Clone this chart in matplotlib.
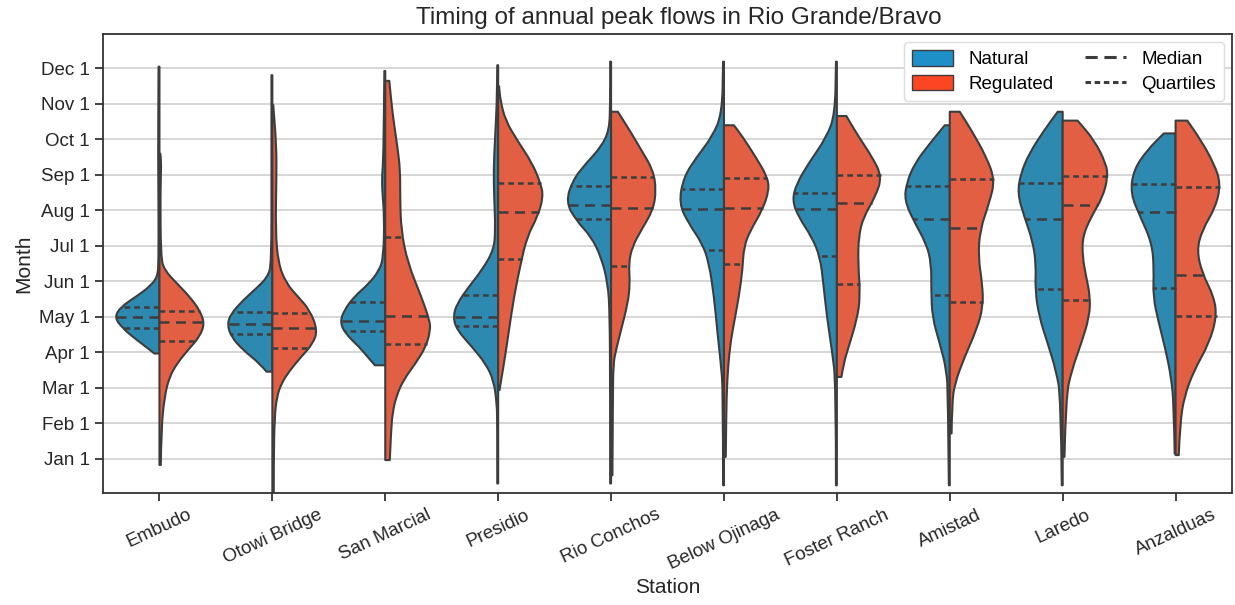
import matplotlib.pyplot as plt
import numpy as np
from matplotlib.path import Path
from matplotlib.patches import PathPatch, Patch
from matplotlib.lines import Line2D

plt.rcParams['font.family'] = ['Liberation Sans', 'DejaVu Sans']

stations = ['Embudo', 'Otowi Bridge', 'San Marcial', 'Presidio', 'Rio Conchos',
            'Below Ojinaga', 'Foster Ranch', 'Amistad', 'Laredo', 'Anzalduas']
month_labels = ['Jan 1', 'Feb 1', 'Mar 1', 'Apr 1', 'May 1', 'Jun 1',
                'Jul 1', 'Aug 1', 'Sep 1', 'Oct 1', 'Nov 1', 'Dec 1']

# density profiles: month position (Jan 1 = 1) and relative width (max = 1)
natural_y = [
    [3.97, 4.16, 4.44, 4.68, 4.99, 5.29, 5.57, 5.85, 6.13, 6.6, 8.0, 9.5, 12.05],
    [3.46, 3.69, 4.07, 4.44, 4.80, 5.10, 5.47, 5.80, 6.13, 6.51, 9.0, 11.81],
    [3.64, 3.83, 4.16, 4.54, 4.86, 5.19, 5.57, 5.94, 6.32, 6.69, 7.82, 8.6, 9.0, 9.5, 11.93],
    [0.31, 2.0, 2.56, 3.22, 3.69, 4.16, 4.63, 5.0, 5.38, 5.85, 6.32, 6.88, 7.45, 8.4, 9.2, 10.0, 11.0, 12.09],
    [0.31, 3.0, 5.10, 5.94, 6.69, 7.26, 7.73, 8.24, 8.85, 9.32, 9.79, 10.26, 11.0, 12.19],
    [0.26, 2.94, 3.69, 4.63, 5.57, 6.51, 7.07, 7.63, 8.20, 8.95, 9.51, 10.08, 10.73, 12.19],
    [0.26, 3.13, 4.07, 5.0, 5.94, 6.69, 7.26, 7.82, 8.29, 8.76, 9.32, 10.08, 10.73, 12.19],
    [0.26, 2.75, 3.50, 4.25, 5.0, 5.76, 6.51, 7.07, 7.73, 8.29, 8.76, 9.32, 9.89, 10.40],
    [0.26, 2.75, 3.50, 4.25, 5.0, 5.76, 6.51, 7.16, 7.82, 8.48, 9.04, 9.61, 10.26, 10.78],
    [1.15, 2.56, 3.31, 4.07, 4.82, 5.57, 6.32, 7.07, 7.82, 8.48, 9.14, 9.70, 10.17],
]
natural_w = [
    [0.11, 0.30, 0.59, 0.81, 1.0, 0.85, 0.52, 0.22, 0.04, 0.02, 0.02, 0.03, 0.02],
    [0.13, 0.28, 0.65, 0.91, 1.0, 0.91, 0.65, 0.36, 0.10, 0.02, 0.02, 0.02],
    [0.23, 0.36, 0.58, 0.89, 1.0, 0.91, 0.69, 0.36, 0.13, 0.04, 0.02, 0.07, 0.07, 0.04, 0.02],
    [0.02, 0.02, 0.03, 0.10, 0.28, 0.58, 0.91, 1.0, 0.91, 0.65, 0.36, 0.10, 0.06, 0.09, 0.10, 0.07, 0.03, 0.02],
    [0.02, 0.02, 0.03, 0.07, 0.22, 0.44, 0.78, 1.0, 0.85, 0.56, 0.22, 0.04, 0.02, 0.02],
    [0.02, 0.02, 0.07, 0.15, 0.22, 0.33, 0.48, 0.78, 1.0, 0.89, 0.60, 0.26, 0.04, 0.02],
    [0.02, 0.02, 0.11, 0.22, 0.30, 0.37, 0.56, 0.85, 0.99, 0.89, 0.63, 0.22, 0.04, 0.02],
    [0.02, 0.04, 0.07, 0.22, 0.39, 0.41, 0.41, 0.52, 0.81, 1.0, 0.96, 0.78, 0.44, 0.11],
    [0.02, 0.04, 0.15, 0.33, 0.52, 0.61, 0.59, 0.67, 0.85, 1.0, 0.93, 0.74, 0.41, 0.11],
    [0.02, 0.04, 0.10, 0.22, 0.37, 0.50, 0.48, 0.52, 0.78, 1.0, 0.93, 0.63, 0.26],
]
regulated_y = [
    [0.83, 1.81, 2.75, 3.31, 3.69, 4.07, 4.44, 4.82, 5.19, 5.57, 5.94, 6.32, 6.69, 8.5, 9.3, 9.6],
    [-0.3, 1.0, 2.19, 2.75, 3.13, 3.50, 3.88, 4.25, 4.63, 5.19, 5.57, 5.94, 6.51, 7.45, 8.9, 9.8, 10.97],
    [0.97, 1.81, 2.28, 2.75, 3.22, 3.69, 4.16, 4.63, 4.91, 5.57, 6.51, 7.45, 8.38, 9.14, 9.79, 10.73, 11.65],
    [2.94, 3.69, 4.63, 5.57, 6.51, 7.26, 7.82, 8.38, 8.76, 9.32, 9.98, 10.54, 11.1, 11.5],
    [0.54, 2.75, 3.69, 4.07, 4.63, 5.38, 5.94, 6.51, 6.98, 7.45, 8.01, 8.57, 9.14, 9.70, 10.26, 10.78],
    [1.06, 2.28, 3.22, 4.16, 4.82, 5.57, 6.32, 6.98, 7.45, 8.01, 8.57, 8.95, 9.51, 10.08, 10.40],
    [3.31, 3.69, 4.16, 4.91, 5.57, 6.51, 7.26, 7.82, 8.38, 8.95, 9.51, 10.08, 10.66],
    [1.72, 2.56, 3.13, 3.88, 4.63, 5.29, 5.94, 6.69, 7.45, 8.20, 8.85, 9.51, 10.26, 10.78],
    [1.06, 2.75, 3.50, 4.25, 5.0, 5.57, 6.13, 6.69, 7.26, 7.82, 8.38, 8.95, 9.32, 9.98, 10.53],
    [1.11, 2.0, 2.75, 3.50, 4.25, 5.0, 5.57, 6.23, 6.88, 7.45, 8.10, 8.76, 9.32, 9.98, 10.53],
]
regulated_w = [
    [0.03, 0.04, 0.11, 0.22, 0.39, 0.63, 0.89, 1.0, 0.89, 0.67, 0.39, 0.11, 0.03, 0.02, 0.04, 0.02],
    [0.03, 0.03, 0.05, 0.10, 0.20, 0.39, 0.64, 0.90, 1.0, 0.83, 0.57, 0.31, 0.13, 0.07, 0.09, 0.09, 0.02],
    [0.10, 0.13, 0.16, 0.24, 0.40, 0.67, 0.90, 1.0, 0.98, 0.80, 0.50, 0.35, 0.33, 0.33, 0.27, 0.16, 0.09],
    [0.03, 0.13, 0.24, 0.35, 0.50, 0.64, 0.87, 1.0, 0.94, 0.76, 0.42, 0.16, 0.05, 0.02],
    [0.03, 0.04, 0.05, 0.11, 0.22, 0.37, 0.42, 0.39, 0.47, 0.67, 0.93, 1.0, 0.93, 0.67, 0.41, 0.15],
    [0.04, 0.05, 0.07, 0.13, 0.22, 0.33, 0.41, 0.44, 0.59, 0.85, 1.0, 0.96, 0.70, 0.41, 0.22],
    [0.10, 0.15, 0.26, 0.44, 0.52, 0.47, 0.48, 0.59, 0.85, 1.0, 0.78, 0.48, 0.21],
    [0.04, 0.05, 0.11, 0.33, 0.59, 0.74, 0.72, 0.63, 0.67, 0.87, 1.0, 0.81, 0.48, 0.22],
    [0.04, 0.07, 0.20, 0.41, 0.59, 0.61, 0.52, 0.44, 0.44, 0.63, 0.89, 1.0, 0.96, 0.70, 0.33],
    [0.07, 0.10, 0.19, 0.41, 0.74, 0.91, 0.85, 0.59, 0.47, 0.59, 0.89, 1.0, 0.85, 0.56, 0.26],
]

natural_q1 = [4.69, 4.53, 4.60, 4.74, 7.75, 6.88, 6.71, 5.62, 5.80, 5.83]
natural_med = [4.99, 4.80, 4.88, 5.00, 8.16, 8.03, 8.04, 7.75, 7.77, 7.96]
natural_q3 = [5.29, 5.13, 5.43, 5.62, 8.69, 8.61, 8.50, 8.69, 8.76, 8.74]
regulated_q1 = [4.33, 4.13, 4.23, 6.63, 6.43, 6.48, 5.92, 5.43, 5.49, 5.02]
regulated_med = [4.85, 4.68, 5.04, 7.96, 8.08, 8.08, 8.22, 7.52, 8.16, 6.18]
regulated_q3 = [5.17, 5.10, 7.24, 8.76, 8.93, 8.92, 8.99, 8.89, 8.98, 8.67]

NAT_FILL, REG_FILL = '#2e89b0', '#e35f43'
NAT_KEY, REG_KEY = '#1e90c8', '#fc4522'
EDGE = '#3d3d3d'
HALF = 0.4
LW = 1.5
INNER_LW = 1.8
MED_DASH = (4.0, 2.6)
QRT_DASH = (2.3, 1.6)


def half_violin(ax, center, ys, ws, side, color):
    # outline smoothed with quadratic bezier segments through knot midpoints
    xs = [center + side * HALF * w for w in ws]
    verts = [(center, ys[0]), (xs[0], ys[0])]
    codes = [Path.MOVETO, Path.LINETO]
    for i in range(1, len(ys) - 1):
        mid = ((xs[i] + xs[i + 1]) / 2, (ys[i] + ys[i + 1]) / 2)
        verts += [(xs[i], ys[i]), mid]
        codes += [Path.CURVE3, Path.CURVE3]
    verts += [(xs[-1], ys[-1]), (center, ys[-1]), (center, ys[0])]
    codes += [Path.LINETO, Path.LINETO, Path.CLOSEPOLY]
    patch = PathPatch(Path(verts, codes), facecolor=color, edgecolor=EDGE,
                      lw=LW, zorder=2, joinstyle='round')
    ax.add_patch(patch)


def inner_line(ax, center, ys, ws, side, val, dashes):
    w = np.interp(val, ys, ws) * HALF
    ax.plot([center, center + side * w], [val, val], color=EDGE, lw=INNER_LW,
            dashes=dashes, zorder=3, solid_capstyle='butt')


fig = plt.figure(figsize=(12.35, 6.05), dpi=100)
ax = fig.add_axes([0.0834, 0.185, 0.9142, 0.7588])

for i in range(len(stations)):
    half_violin(ax, i, natural_y[i], natural_w[i], -1, NAT_FILL)
    half_violin(ax, i, regulated_y[i], regulated_w[i], 1, REG_FILL)
    for val in (natural_q1[i], natural_q3[i]):
        inner_line(ax, i, natural_y[i], natural_w[i], -1, val, QRT_DASH)
    inner_line(ax, i, natural_y[i], natural_w[i], -1, natural_med[i], MED_DASH)
    for val in (regulated_q1[i], regulated_q3[i]):
        inner_line(ax, i, regulated_y[i], regulated_w[i], 1, val, QRT_DASH)
    inner_line(ax, i, regulated_y[i], regulated_w[i], 1, regulated_med[i], MED_DASH)

ax.set_xlim(-0.5, len(stations) - 0.5)
ax.set_ylim(0.04, 12.97)
ax.set_xticks(range(len(stations)))
ax.set_xticklabels(stations, rotation=25, fontsize=13.5)
ax.set_yticks(range(1, 13))
ax.set_yticklabels(month_labels, fontsize=13.5)
ax.yaxis.grid(True, color='#d6d6d6', lw=1.4, zorder=0)
ax.set_axisbelow(True)
ax.tick_params(length=6, width=1.3, color='#333333', labelcolor='#262626')
for sp in ax.spines.values():
    sp.set_color('#333333')
    sp.set_linewidth(1.3)

ax.set_xlabel('Station', fontsize=15, color='#262626')
ax.set_ylabel('Month', fontsize=15, color='#262626')
ax.set_title('Timing of annual peak flows in Rio Grande/Bravo', fontsize=17.5,
             color='#262626', pad=7, x=0.51)

handles = [Patch(facecolor=NAT_KEY, edgecolor=EDGE, label='Natural'),
           Patch(facecolor=REG_KEY, edgecolor=EDGE, label='Regulated'),
           Line2D([], [], color=EDGE, lw=2.2, dashes=(4, 2.2), label='Median'),
           Line2D([], [], color=EDGE, lw=2.2, dashes=(1.8, 1.2), label='Quartiles')]
ax.legend(handles=handles, ncol=2, loc='upper right', fontsize=13.5,
          frameon=True, framealpha=1, edgecolor='#dddddd',
          handlelength=2.2, handleheight=0.9, columnspacing=1.7,
          borderaxespad=0.45, labelspacing=0.35)

fig.savefig('out.png', dpi=100)
